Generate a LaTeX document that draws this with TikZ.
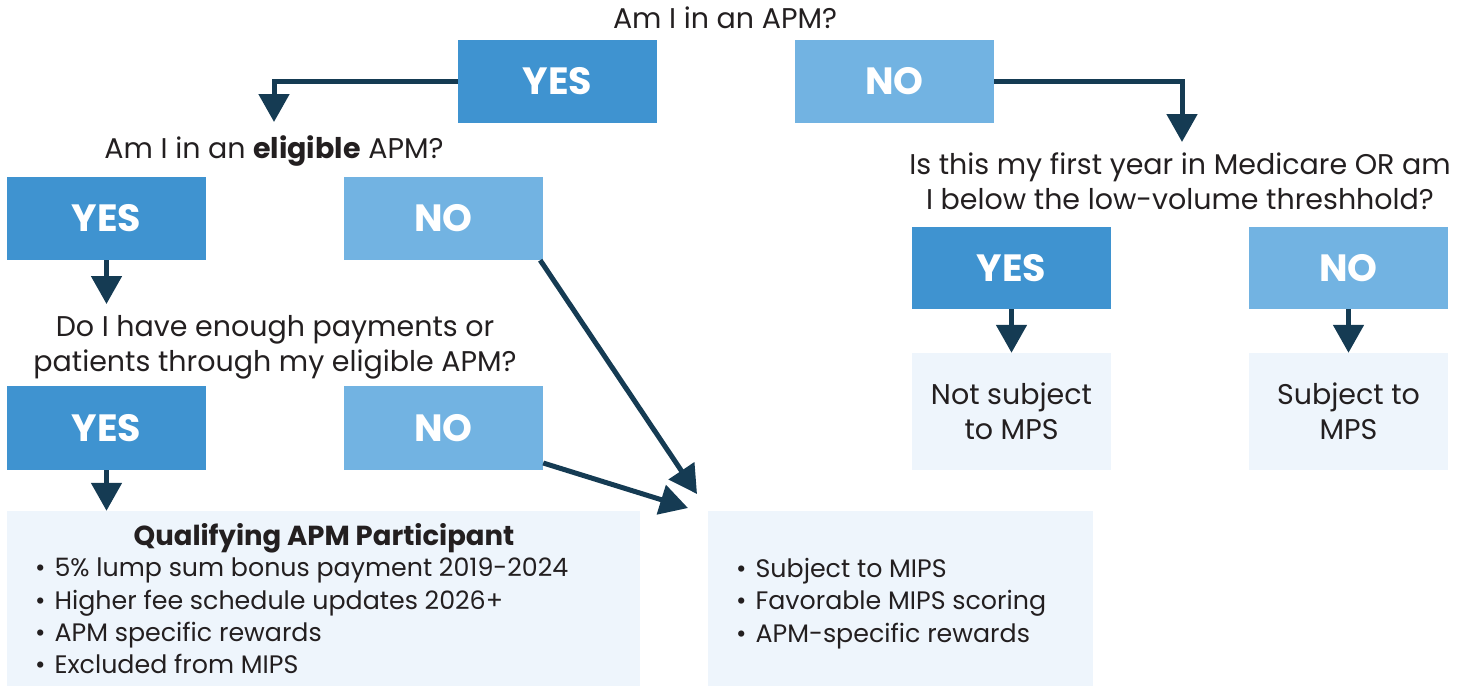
\documentclass[tikz,border=0pt]{standalone}
\usepackage{fontspec}
\setmainfont{Poppins}
\usetikzlibrary{arrows.meta}
\definecolor{yesblue}{HTML}{3F93D0}
\definecolor{noblue}{HTML}{72B3E2}
\definecolor{navy}{HTML}{153B53}
\definecolor{pale}{HTML}{EEF5FC}
\definecolor{ink}{HTML}{231F20}
\newcommand{\bul}{\textbullet\hspace{9pt}}
\tikzset{
  yesbox/.style={rectangle, fill=yesblue, minimum width=199pt, minimum height=83pt, inner sep=0pt, text=white, font=\fontsize{38}{40}\selectfont\bfseries},
  nobox/.style={yesbox, fill=noblue},
  palebox/.style={rectangle, fill=pale, inner sep=0pt},
  qtext/.style={text=ink, align=center, inner sep=0pt, font=\fontsize{28.5}{35}\selectfont},
  btext/.style={text=ink, align=left, inner sep=0pt, font=\fontsize{25.3}{32.3}\selectfont},
  flow/.style={draw=navy, line width=5pt, -{Triangle[length=28pt,width=30pt]}},
}
\begin{document}
\begin{tikzpicture}[x=1pt,y=-1pt]
\useasboundingbox (0,0) rectangle (1461,686);
% top question
\node[qtext] (q1) at (725,18) {Am I in an APM?};
\node[yesbox] (y1) at (557.5,81.5) {YES};
\node[nobox] (n1) at (894.5,81.5) {NO};
\coordinate (t1) at (274,122);
\coordinate (t2) at (1182,142);
\draw[flow] (y1.west) -| (t1);
\draw[flow] (n1.east) -| (t2);
% left branch
\node[qtext] (q2) at (274,151) {Am I in an \textbf{eligible} APM?};
\node[yesbox] (y2) at (106.5,218.5) {YES};
\node[nobox] (n2) at (443.5,218.5) {NO};
\node[qtext] (q3) at (275,347) {Do I have enough payments or\\patients through my eligible APM?};
\node[yesbox, minimum height=84pt] (y3) at (106.5,428) {YES};
\node[nobox, minimum height=84pt] (n3) at (443.5,428) {NO};
\coordinate (t3) at (106.5,304);
\draw[flow] (y2.south) -- (t3);
% bottom boxes
\node[palebox, minimum width=633pt, minimum height=175pt] (qap) at (323.5,598.5) {};
\node[palebox, minimum width=385pt, minimum height=175pt] (mips) at (900.5,598.5) {};
\draw[flow] (y3.south) -- (y3.south |- qap.north);
\node[text=ink, inner sep=0pt, font=\fontsize{27.5}{32}\selectfont\bfseries] (qt) at (324,538) {Qualifying APM Participant};
\node[btext, anchor=north west] (ql) at (35,558) {\bul 5\% lump sum bonus payment 2019-2024\\\bul Higher fee schedule updates 2026+\\\bul APM specific rewards\\\bul Excluded from MIPS};
\node[btext, anchor=north west] (ml) at (736,558) {\bul Subject to MIPS\\\bul Favorable MIPS scoring\\\bul APM-specific rewards};
\coordinate (t4) at (697,494);
\coordinate (t5) at (688,508);
\draw[flow] (n2.south east) ++(-3,0) coordinate (s4) -- (t4);
\draw[flow] (n3.east) ++(0,35) coordinate (s5) -- (t5);
% right branch
\node[qtext] (q4) at (1180,181) {Is this my first year in Medicare OR am\\I below the low-volume threshhold?};
\node[yesbox, minimum height=82pt] (y4) at (1011.5,268) {YES};
\node[nobox, minimum height=82pt] (n4) at (1348.5,268) {NO};
\node[palebox, minimum width=199pt, minimum height=117pt, qtext] (ns) at (1011.5,411.5) {Not subject\\to MPS};
\node[palebox, minimum width=199pt, minimum height=117pt, qtext] (s) at (1348.5,411.5) {Subject to\\MPS};
\draw[flow] (y4.south) -- (y4.south |- ns.north);
\draw[flow] (n4.south) -- (n4.south |- s.north);
\end{tikzpicture}
\end{document}
